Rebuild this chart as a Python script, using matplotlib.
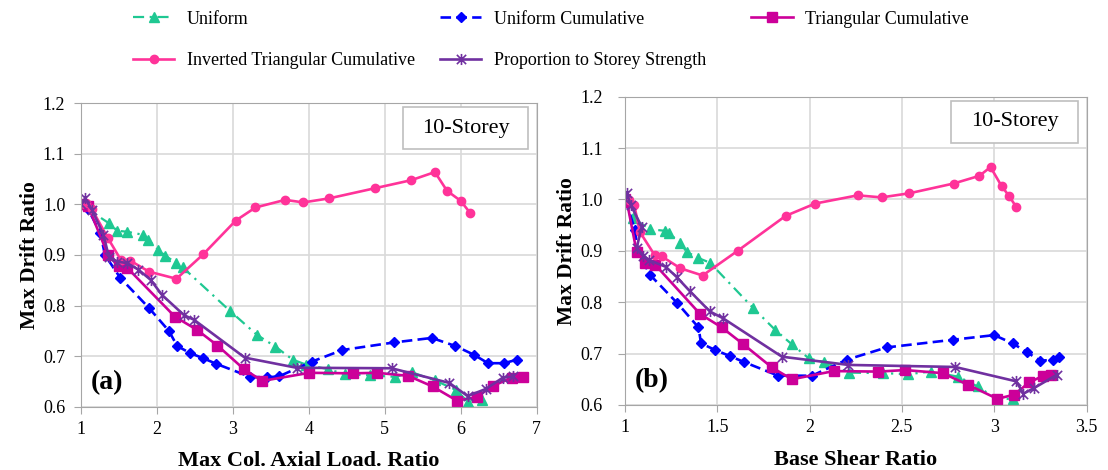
import matplotlib
matplotlib.use("Agg")
import matplotlib.pyplot as plt
from matplotlib.path import Path
from matplotlib.patches import Rectangle
from matplotlib.ticker import FormatStrFormatter, MultipleLocator

plt.rcParams['font.family'] = ['Liberation Serif', 'DejaVu Serif']

# (a) drift ratio vs max column axial load ratio
a_uni_x = [1.0, 1.37, 1.48, 1.61, 1.82, 1.89, 2.02, 2.11, 2.25, 2.34, 2.96, 3.32, 3.56, 3.79,
           3.97, 4.26, 4.48, 4.81, 5.14, 5.36, 5.66, 5.94, 6.09, 6.28]
a_uni_y = [1.0, 0.963, 0.948, 0.946, 0.940, 0.930, 0.910, 0.899, 0.885, 0.876, 0.790, 0.742, 0.719, 0.693,
           0.683, 0.674, 0.664, 0.662, 0.659, 0.668, 0.652, 0.633, 0.610, 0.614]
a_ucum_x = [1.0, 1.10, 1.26, 1.32, 1.52, 1.90, 2.16, 2.27, 2.44, 2.61, 2.78, 3.23, 3.45, 3.61,
            4.04, 4.44, 5.12, 5.62, 5.93, 6.17, 6.36, 6.57, 6.74]
a_ucum_y = [1.0, 0.990, 0.943, 0.900, 0.855, 0.795, 0.750, 0.720, 0.706, 0.696, 0.685, 0.659, 0.658, 0.660,
            0.689, 0.712, 0.727, 0.736, 0.720, 0.703, 0.686, 0.686, 0.693]
a_tri_x = [1.0, 1.10, 1.36, 1.50, 1.61, 2.24, 2.53, 2.80, 3.15, 3.39, 4.01, 4.58, 4.90, 5.31,
           5.63, 5.95, 6.21, 6.42, 6.67, 6.82]
a_tri_y = [1.0, 0.996, 0.900, 0.878, 0.875, 0.778, 0.752, 0.721, 0.674, 0.651, 0.667, 0.666, 0.667, 0.661,
           0.640, 0.612, 0.619, 0.641, 0.657, 0.658]
a_inv_x = [1.0, 1.07, 1.15, 1.36, 1.53, 1.65, 1.90, 2.26, 2.61, 3.04, 3.30, 3.69, 3.93, 4.27,
           4.87, 5.35, 5.66, 5.82, 6.00, 6.12]
a_inv_y = [1.0, 1.003, 0.990, 0.933, 0.890, 0.889, 0.867, 0.853, 0.901, 0.968, 0.994, 1.009, 1.004, 1.012,
           1.032, 1.048, 1.064, 1.027, 1.007, 0.984]
a_str_x = [1.0, 1.06, 1.15, 1.30, 1.37, 1.48, 1.61, 1.76, 1.92, 2.07, 2.36, 2.49, 3.16, 3.84,
           5.09, 5.85, 6.09, 6.33, 6.55, 6.69]
a_str_y = [1.0, 1.012, 0.989, 0.940, 0.897, 0.887, 0.884, 0.871, 0.851, 0.821, 0.781, 0.772, 0.697, 0.677,
           0.676, 0.647, 0.621, 0.635, 0.657, 0.660]

# (b) drift ratio vs base shear ratio
b_uni_x = [1.0, 1.045, 1.135, 1.217, 1.24, 1.30, 1.334, 1.397, 1.46, 1.696, 1.814, 1.904, 1.995,
           2.08, 2.214, 2.395, 2.535, 2.656, 2.806, 2.91, 3.013, 3.10]
b_uni_y = [1.0, 0.963, 0.942, 0.939, 0.934, 0.915, 0.898, 0.886, 0.877, 0.788, 0.746, 0.718, 0.691,
           0.683, 0.663, 0.662, 0.660, 0.665, 0.655, 0.636, 0.612, 0.612]
b_ucum_x = [1.0, 1.054, 1.069, 1.136, 1.284, 1.398, 1.412, 1.488, 1.57, 1.642, 1.83, 2.013, 2.20,
            2.417, 2.778, 3.0, 3.10, 3.176, 3.25, 3.317, 3.353]
b_ucum_y = [1.0, 0.941, 0.898, 0.853, 0.798, 0.751, 0.720, 0.707, 0.695, 0.684, 0.657, 0.657, 0.688,
            0.712, 0.727, 0.736, 0.720, 0.703, 0.686, 0.688, 0.694]
b_tri_x = [1.0, 1.01, 1.063, 1.108, 1.163, 1.407, 1.524, 1.638, 1.796, 1.904, 2.13, 2.373, 2.518,
           2.72, 2.86, 3.017, 3.107, 3.19, 3.266, 3.31]
b_tri_y = [1.0, 0.996, 0.898, 0.877, 0.873, 0.777, 0.751, 0.719, 0.673, 0.650, 0.666, 0.665, 0.668,
           0.662, 0.639, 0.612, 0.620, 0.644, 0.657, 0.659]
b_inv_x = [1.0, 1.02, 1.05, 1.08, 1.16, 1.20, 1.30, 1.42, 1.61, 1.87, 2.03, 2.26, 2.39, 2.54,
           2.78, 2.92, 2.98, 3.04, 3.08, 3.12]
b_inv_y = [1.005, 0.999, 0.989, 0.937, 0.892, 0.889, 0.866, 0.852, 0.900, 0.968, 0.992, 1.008, 1.004, 1.012,
           1.031, 1.046, 1.063, 1.026, 1.007, 0.985]
b_str_x = [1.0, 1.01, 1.03, 1.09, 1.063, 1.10, 1.13, 1.22, 1.28, 1.35, 1.46, 1.53, 1.85, 2.21,
           2.788, 3.12, 3.158, 3.216, 3.34]
b_str_y = [1.0, 1.012, 0.990, 0.947, 0.905, 0.890, 0.882, 0.869, 0.849, 0.822, 0.782, 0.769, 0.694, 0.678,
           0.674, 0.646, 0.622, 0.633, 0.659]

labels = ["Uniform", "Uniform Cumulative", "Triangular Cumulative",
          "Inverted Triangular Cumulative", "Proportion to Storey Strength"]

# asterisk-like star marker (x with a vertical bar)
star = Path([(-1, -1), (1, 1), (-1, 1), (1, -1), (0, -1.2), (0, 1.2)],
            [Path.MOVETO, Path.LINETO] * 3)

styles = [
    dict(color='#1fc892', marker='^', ms=7, lw=1.6, dashes=(5, 2.5, 1, 2.5)),
    dict(color='#0000ff', marker='D', ms=5, lw=1.9, dashes=(4, 2)),
    dict(color='#cc0099', marker='s', ms=7, lw=1.9, ls='-'),
    dict(color='#ff3399', marker='o', ms=6, lw=1.9, ls='-'),
    dict(color='#7030a0', marker=star, ms=8, mew=1.2, lw=1.9, ls='-'),
]

fig = plt.figure(figsize=(11.08, 4.7), dpi=100)
ax_a = fig.add_axes([0.0728, 0.1347, 0.4116, 0.6455])
ax_b = fig.add_axes([0.5641, 0.1383, 0.4165, 0.6560])

panels = [
    (ax_a, [(a_uni_x, a_uni_y), (a_ucum_x, a_ucum_y), (a_tri_x, a_tri_y), (a_inv_x, a_inv_y), (a_str_x, a_str_y)],
     (1, 7), 1, "Max Col. Axial Load. Ratio", "(a)", 6),
    (ax_b, [(b_uni_x, b_uni_y), (b_ucum_x, b_ucum_y), (b_tri_x, b_tri_y), (b_inv_x, b_inv_y), (b_str_x, b_str_y)],
     (1, 3.5), 0.5, "Base Shear Ratio", "(b)", 11),
]

handles = []
for ax, series, xlim, xstep, xlabel, tag, ypad in panels:
    handles = []
    for (x, y), st, lab in zip(series, styles, labels):
        h, = ax.plot(x, y, label=lab, **st)
        handles.append(h)
    ax.set_xlim(*xlim)
    ax.set_ylim(0.6, 1.2)
    ax.xaxis.set_major_locator(MultipleLocator(xstep))
    ax.yaxis.set_major_locator(MultipleLocator(0.1))
    ax.xaxis.set_major_formatter(FormatStrFormatter('%g'))
    ax.yaxis.set_major_formatter(FormatStrFormatter('%.1f'))
    ax.grid(True, color='#d9d9d9', lw=1.2)
    ax.set_axisbelow(True)
    for s in ax.spines.values():
        s.set_color('#a6a6a6')
    ax.tick_params(labelsize=13, color='#a6a6a6', length=5)
    ax.tick_params(axis='x', pad=5)
    ax.tick_params(axis='y', pad=ypad)
    ax.set_xlabel(xlabel, fontsize=16, fontweight='bold', labelpad=10)
    ax.set_ylabel("Max Drift Ratio", fontsize=15.5, fontweight='bold', labelpad=2)
    ax.text(0.057, 0.08, tag, transform=ax.transAxes, fontsize=20, fontweight='bold',
            ha='center', va='center')
    # storey label box
    ax.add_patch(Rectangle((0.707, 0.849), 0.274, 0.138, transform=ax.transAxes,
                           facecolor='white', edgecolor='#bfbfbf', lw=1.2, zorder=5))
    ax.text(0.844, 0.918, "10-Storey", transform=ax.transAxes, fontsize=16,
            ha='center', va='center', zorder=6)

# legend laid out as three separate columns
cols = [([0, 3], 0.120), ([1, 4], 0.397), ([2], 0.678)]
for idx, xpos in cols:
    fig.legend([handles[i] for i in idx], [labels[i] for i in idx],
               loc='upper left', bbox_to_anchor=(xpos, 0.977), frameon=False,
               fontsize=13, handlelength=2.3, handletextpad=0.7, labelspacing=1.35,
               borderpad=0, borderaxespad=0)

fig.savefig("out.png", dpi=100)
